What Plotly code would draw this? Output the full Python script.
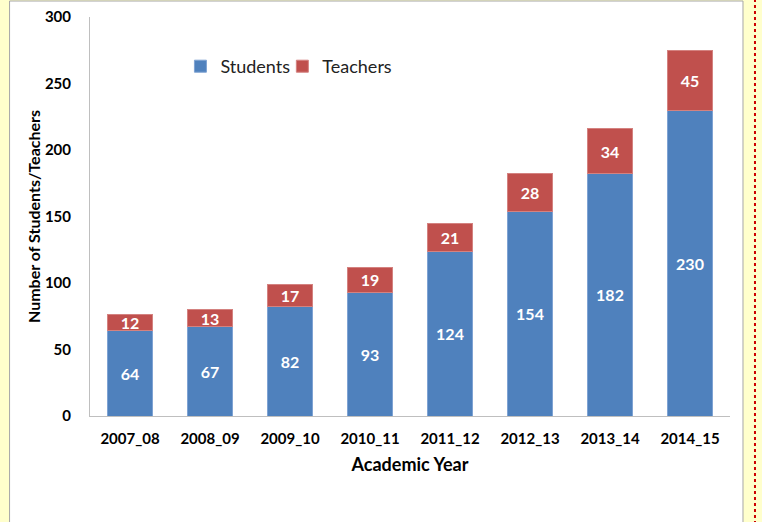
import plotly.graph_objects as go

years = ["2007_08", "2008_09", "2009_10", "2010_11", "2011_12", "2012_13", "2013_14", "2014_15"]
students = [64, 67, 82, 93, 124, 154, 182, 230]
teachers = [12, 13, 17, 19, 21, 28, 34, 45]
y_ticks = [0, 50, 100, 150, 200, 250, 300]

BLUE = "#4F81BD"
RED = "#C0504D"
FONT = "Lato"

# plot area in pixels
L, R, T, B = 89.5, 730, 17, 416
W, H = R - L, B - T

def px_x(x):
    return (x - L) / W

def px_y(y):
    return (B - y) / H

label_font = dict(color="white", size=16, family=FONT, weight="bold")

fig = go.Figure()
fig.add_trace(go.Bar(
    x=years, y=students, name="Students", legend="legend",
    marker=dict(color=BLUE, line=dict(color="#7FA3D3", width=1)),
    text=students, textposition="inside", insidetextanchor="middle", textangle=0,
    textfont=label_font, cliponaxis=False,
))
fig.add_trace(go.Bar(
    x=years, y=teachers, name="Teachers", legend="legend2",
    marker=dict(color=RED, line=dict(color="#D48280", width=1)),
    text=teachers, textposition="inside", insidetextanchor="middle", textangle=0,
    textfont=label_font, cliponaxis=False,
))

legend_common = dict(orientation="h", y=px_y(48), xanchor="left", yanchor="top",
                     font=dict(size=18, family=FONT, color="#222222"),
                     bgcolor="rgba(0,0,0,0)")

fig.update_layout(
    width=762, height=522,
    barmode="stack", bargap=0.44,
    paper_bgcolor="#FFFFCC", plot_bgcolor="rgba(0,0,0,0)",
    margin=dict(l=L, r=762 - R, t=T, b=522 - B, pad=0, autoexpand=False),
    font=dict(family=FONT, color="#000000"),
    uniformtext=dict(minsize=16, mode="show"),
    showlegend=True,
    legend=dict(x=px_x(180), **legend_common),
    legend2=dict(x=px_x(282), **legend_common),
    xaxis=dict(
        range=[-0.5, 7.5], showline=True, linecolor="#BFBFBF", linewidth=1,
        ticks="", showgrid=False, zeroline=False, automargin=False, ticklabelstandoff=9,
        tickfont=dict(size=15, family=FONT, weight="bold"),
        title=dict(text="Academic Year", font=dict(size=18, family=FONT, weight="bold"), standoff=12),
    ),
    yaxis=dict(
        range=[0, 300], tickvals=y_ticks, showline=True, linecolor="#BFBFBF", linewidth=1,
        ticks="", showgrid=False, zeroline=False, ticklabelstandoff=15, automargin=False,
        tickfont=dict(size=15, family=FONT, weight="bold"),
        title=dict(text="Number of Students/Teachers", font=dict(size=16, family=FONT, weight="bold"), standoff=0),
    ),
    shapes=[
        dict(type="rect", xref="paper", yref="paper", layer="below",
             x0=px_x(9), x1=px_x(743), y0=px_y(530), y1=px_y(1),
             fillcolor="white", line=dict(color="#A6A6A6", width=1)),
        dict(type="line", xref="paper", yref="paper", layer="above",
             x0=px_x(755), x1=px_x(755), y0=px_y(530), y1=px_y(-5),
             line=dict(color="#CC0000", width=2, dash="dot")),
    ],
)

fig.write_html("out.html", config={"displayModeBar": False},
               post_script="document.body.style.margin='0';document.body.style.overflow='hidden';")
